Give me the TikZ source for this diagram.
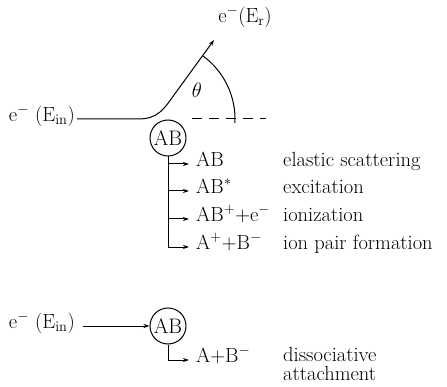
\documentclass[tikz,border=0pt]{standalone}
\usetikzlibrary{arrows.meta}
\begin{document}
\begin{tikzpicture}[x=1pt,y=1pt,
  txt/.style={font={\fontsize{20.5}{18}\selectfont}, inner sep=0pt},
  prod/.style={txt, anchor=mid west, inner xsep=7pt},
  desc/.style={txt, anchor=mid west, align=left},
  mol/.style={circle, draw, line width=1pt, minimum size=36pt, inner sep=0pt, font={\fontsize{21}{18}\selectfont}},
  ln/.style={line width=1pt},
  arr/.style={ln, -{Stealth[length=6pt,width=4pt]}}]
\useasboundingbox (0,0) rectangle (447,386);

% ---- upper scheme ----
\node[txt, anchor=mid east, inner xsep=2pt] (ein1) at (77,267) {e$^-$\ (E$_{\rm in}$)};
\node[mol] (AB1) at (168,248) {AB};
\coordinate (bend) at (174,291);
\coordinate (tip) at (214,346);
\node[txt] (er) at (245,369) {e$^-$(E$_{\rm r}$)};
\draw[arr] (ein1.mid east) -- (138,267) .. controls (158,267) and (164,277) .. (bend) -- (tip);
\coordinate (O) at (157,267);
\coordinate (da) at (192,267);
\coordinate (db) at (266,267);
\draw[ln, dash pattern=on 10pt off 7pt] (da) -- (db);
\draw[ln] (O) ++(54:78) arc[start angle=54, end angle=-3, radius=78];
\node[txt] (theta) at (197,296) {$\theta$};

\node[prod] (p1) at (189,222) {AB};
\node[prod] (p2) at (189,195) {AB$^{\ast}$};
\node[prod] (p3) at (189,167) {AB$^{+}$+e$^{-}$};
\node[prod] (p4) at (189,139) {A$^{+}$+B$^{-}$};
\node[desc] (q1) at (283,222) {elastic scattering};
\node[desc] (q2) at (283,195) {excitation};
\node[desc] (q3) at (283,167) {ionization};
\node[desc] (q4) at (283,139) {ion pair formation};

\draw[arr] (AB1.south) -- (AB1.south |- p4.mid west) -- (p4.mid west);
\draw[arr] (AB1.south |- p1.mid west) -- (p1.mid west);
\draw[arr] (AB1.south |- p2.mid west) -- (p2.mid west);
\draw[arr] (AB1.south |- p3.mid west) -- (p3.mid west);

% ---- lower scheme ----
\node[txt, anchor=mid east, inner xsep=2pt] (ein2) at (77,60) {e$^-$\ (E$_{\rm in}$)};
\node[mol] (AB2) at (168,60) {AB};
\draw[arr] ([xshift=6pt]ein2.mid east) -- (AB2.west);
\node[prod] (p5) at (189,26) {A+B$^{-}$};
\node[desc] (q5) at (283,27) {dissociative};
\node[desc] (q6) at (283,8) {attachment};
\draw[arr] (AB2.south) -- (AB2.south |- p5.mid west) -- (p5.mid west);
\end{tikzpicture}
\end{document}
